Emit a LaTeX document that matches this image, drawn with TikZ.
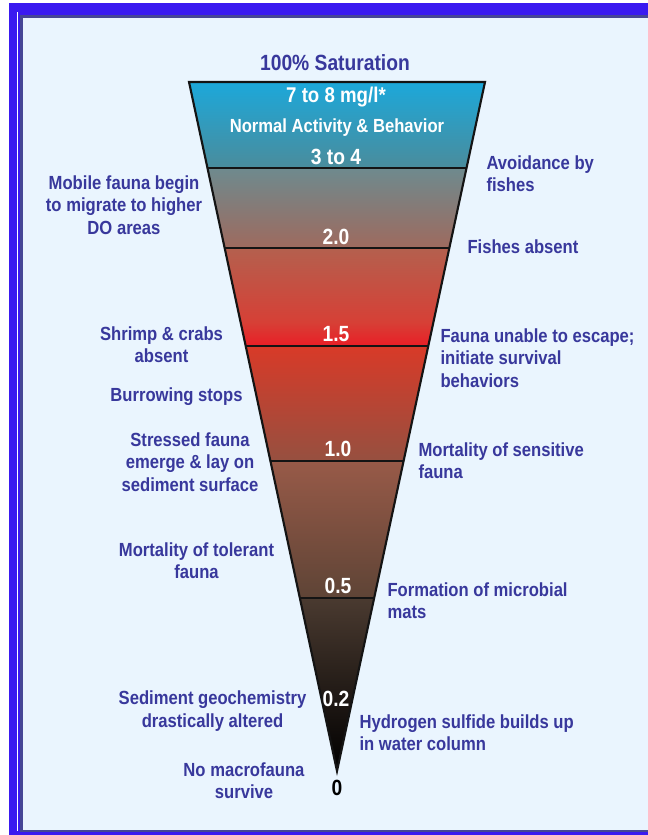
\documentclass[tikz,border=0pt]{standalone}
\usepackage{fontspec}
\setmainfont{Liberation Sans}[FakeStretch=0.875]

\tikzset{every picture/.style={line width=0.75pt}}
\tikzset{
  effect/.style={font=\fontsize{14.25}{16.9}\selectfont\bfseries, text={rgb, 255:red, 56; green, 56; blue, 156 }, inner sep=0pt},
  effectleft/.style={effect, align=center, anchor=center},
  effectright/.style={effect, align=left, anchor=west},
  level/.style={font=\fontsize{16.5}{19}\selectfont\bfseries, text=white, inner sep=0pt},
  divider/.style={draw={rgb, 255:red, 20; green, 20; blue, 20 }, line width=1.6pt},
}

\begin{document}
\begin{tikzpicture}[x=0.75pt,y=0.75pt,yscale=-1,xscale=1]
\useasboundingbox (0,0) rectangle (647,835);
%Shape: Rectangle
\fill [white] (0,0) rectangle (647,835);
\fill [color={rgb, 255:red, 234; green, 245; blue, 254 }] (22.5,17.2) rectangle (660,830);
%Shape: Frame
\draw [color={rgb, 255:red, 58; green, 26; blue, 240 }, line width=6.5] (13,7.7) rectangle (660,835.8);
\draw [color={rgb, 255:red, 58; green, 26; blue, 240 }, line width=2.7] (19.3,834) -- (19.3,13.6) -- (660,13.6);
\draw [color={rgb, 255:red, 70; green, 70; blue, 150 }, line width=2] (660,16.3) -- (21.7,16.3) -- (21.7,831) -- (660,831);
%Shape: Funnel bands
\shade [top color={rgb, 255:red, 28; green, 168; blue, 218 }, bottom color={rgb, 255:red, 74; green, 140; blue, 156 }] (189,82) -- (485,82) -- (466.5,168) -- (207.5,168) -- cycle;
\shade [top color={rgb, 255:red, 110; green, 138; blue, 142 }, bottom color={rgb, 255:red, 158; green, 106; blue, 94 }] (207.5,168) -- (466.5,168) -- (449.3,248) -- (224.7,248) -- cycle;
\shade [top color={rgb, 255:red, 180; green, 96; blue, 78 }, bottom color={rgb, 255:red, 214; green, 64; blue, 54 }] (224.7,248) -- (449.3,248) -- (433.4,322) -- (240.6,322) -- cycle;
\shade [top color={rgb, 255:red, 214; green, 64; blue, 54 }, bottom color={rgb, 255:red, 234; green, 30; blue, 38 }] (240.6,322) -- (433.4,322) -- (428.3,346) -- (245.7,346) -- cycle;
\shade [top color={rgb, 255:red, 216; green, 58; blue, 40 }, bottom color={rgb, 255:red, 150; green, 80; blue, 64 }] (245.7,346) -- (428.3,346) -- (403.6,461) -- (270.4,461) -- cycle;
\shade [top color={rgb, 255:red, 152; green, 90; blue, 72 }, bottom color={rgb, 255:red, 94; green, 68; blue, 54 }] (270.4,461) -- (403.6,461) -- (374.2,598) -- (299.8,598) -- cycle;
\shade [top color={rgb, 255:red, 74; green, 58; blue, 48 }, middle color={rgb, 255:red, 30; green, 24; blue, 20 }, bottom color=black] (299.8,598) -- (374.2,598) -- (337,771) -- cycle;
%Straight Lines
\draw [divider] (207.5,168) -- (466.5,168);
\draw [divider] (224.7,248) -- (449.3,248);
\draw [divider] (245.7,346) -- (428.3,346);
\draw [divider] (270.4,461) -- (403.6,461);
\draw [divider] (299.8,598) -- (374.2,598);
%Shape: Funnel outline
\draw [color={rgb, 255:red, 20; green, 20; blue, 20 }, line width=1.6pt] (189,82) -- (485,82) -- (337,771) -- cycle;

% Text Node
\node [level, text={rgb, 255:red, 56; green, 56; blue, 156 }] (saturation) at (335,63) {100\% Saturation};
\node [level, font=\fontsize{16}{19}\selectfont\bfseries] (normaldo) at (336,97) {7 to 8 mg/l*};
\node [level, font=\fontsize{14.25}{16.9}\selectfont\bfseries] (normal) at (337,128) {Normal Activity \& Behavior};
\node [level] (lvlthree) at (336,157) {3 to 4};
\node [level] (lvltwo) at (336,237) {2.0};
\node [level] (lvlonehalf) at (336,334) {1.5};
\node [level] (lvlone) at (338,449) {1.0};
\node [level] (lvlhalf) at (338,586) {0.5};
\node [level] (lvlfifth) at (336,699) {0.2};
\node [level, text=black] (lvlzero) at (337,788) {0};

% Text Node
\node [effectleft] (mobile) at (124,205) {Mobile fauna begin\\to migrate to higher\\DO areas};
\node [effectleft] (shrimp) at (161.5,344.5) {Shrimp \& crabs\\absent};
\node [effectleft] (burrow) at (176.5,397) {Burrowing stops};
\node [effectleft] (stressed) at (190,462) {Stressed fauna\\emerge \& lay on\\sediment surface};
\node [effectleft] (tolerant) at (196.5,560.5) {Mortality of tolerant\\fauna};
\node [effectleft] (sediment) at (212.5,711) {Sediment geochemistry\\drastically altered};
\node [effectleft] (nomacro) at (244,780.5) {No macrofauna\\survive};

% Text Node
\node [effectright] (avoid) at (486,173.5) {Avoidance by\\fishes};
\node [effectright] (absent) at (467,247) {Fishes absent};
\node [effectright] (escape) at (440,358) {Fauna unable to escape;\\initiate survival\\behaviors};
\node [effectright] (sensitive) at (418,460.5) {Mortality of sensitive\\fauna};
\node [effectright] (microbial) at (387,600.5) {Formation of microbial\\mats};
\node [effectright] (hydrogen) at (359,732.5) {Hydrogen sulfide builds up\\in water column};
\end{tikzpicture}
\end{document}
